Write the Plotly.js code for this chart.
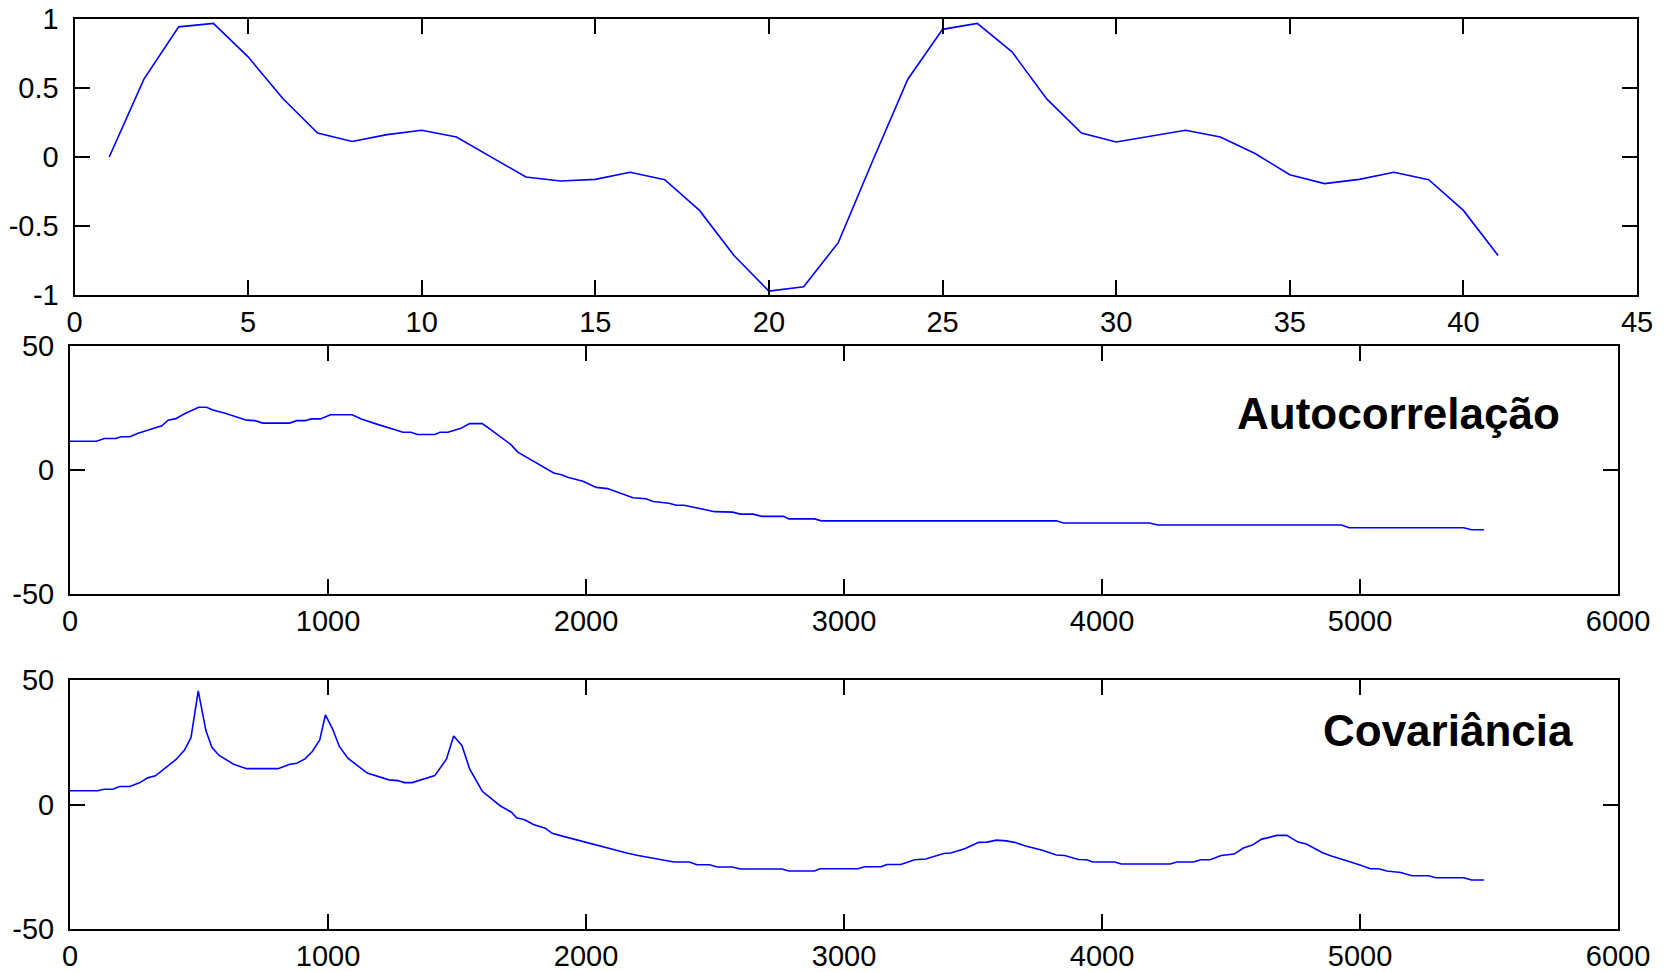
<!DOCTYPE html>
<html>
<head>
<meta charset="utf-8">
<script src="https://cdn.plot.ly/plotly-3.0.1.min.js"></script>
<style>html,body{margin:0;padding:0;background:#fff;}#chart{width:1669px;height:972px;}</style>
</head>
<body>
<div id="chart"></div>
<script>
// ---- Top panel: signal ----
const sigX = [1,2,3,4,5,6,7,8,9,10,11,12,13,14,15,16,17,18,19,20,21,22,23,24,25,26,27,28,29,30,31,32,33,34,35,36,37,38,39,40,41];
const sigY = [0.0,0.564,0.943,0.968,0.726,0.424,0.174,0.112,0.162,0.194,0.145,0.0,-0.145,-0.174,-0.162,-0.111,-0.164,-0.387,-0.716,-0.972,-0.941,-0.619,-0.02,0.564,0.925,0.968,0.762,0.421,0.174,0.109,0.15,0.194,0.145,0.025,-0.128,-0.193,-0.162,-0.111,-0.164,-0.387,-0.713];

// ---- Middle panel: autocorrelation ----
const acX = [0,103,133,178,198,232,261,311,356,380,410,444,469,499,529,554,598,638,685,717,747,851,879,911,935,970,1010,1093,1129,1192,1251,1291,1321,1347,1414,1434,1465,1515,1549,1598,1648,1707,1737,1806,1846,1875,1905,1929,1988,2040,2083,2123,2158,2182,2232,2261,2321,2350,2380,2420,2459,2499,2568,2598,2648,2681,2766,2786,2886,2912,3823,3851,4183,4217,4928,4958,5402,5432,5481];
const acY = [11.6,11.6,12.7,12.7,13.4,13.4,14.7,16.4,17.8,20.1,20.7,22.7,23.8,25.3,25.3,24.2,23.0,21.7,20.1,19.9,18.9,18.9,19.9,19.9,20.6,20.6,22.3,22.3,20.6,18.4,16.4,15.2,15.2,14.3,14.3,15.2,15.2,16.8,18.7,18.7,15.0,10.4,7.1,3.1,0.8,-1.2,-1.9,-2.9,-4.5,-7.0,-7.5,-9.0,-10.0,-11.2,-11.6,-12.7,-13.4,-14.2,-14.2,-15.0,-16.0,-16.8,-17.0,-17.8,-17.8,-18.7,-18.7,-19.7,-19.7,-20.5,-20.5,-21.4,-21.4,-22.2,-22.2,-23.3,-23.3,-24.1,-24.1];

// ---- Bottom panel: covariance ----
const cvX = [0,107,133,166,192,232,271,301,331,360,410,444,469,497,527,550,578,634,685,806,852,879,911,939,968,990,1018,1044,1077,1152,1192,1236,1271,1295,1327,1370,1414,1459,1487,1519,1549,1598,1632,1667,1711,1731,1762,1796,1842,1869,1905,1964,2024,2069,2103,2133,2158,2202,2251,2291,2341,2400,2430,2479,2509,2568,2598,2760,2786,2886,2907,3054,3080,3144,3166,3220,3274,3317,3386,3414,3468,3522,3554,3592,3629,3661,3704,3769,3823,3855,3909,3941,3963,4049,4075,4264,4290,4355,4383,4419,4462,4512,4548,4583,4619,4641,4678,4716,4760,4792,4857,4889,4943,4997,5040,5072,5104,5158,5201,5266,5294,5402,5432,5481];
const cvY = [5.5,5.5,6.1,6.1,7.2,7.2,8.8,10.7,11.5,13.9,18.0,21.9,26.9,45.6,29.6,23.0,19.7,16.2,14.4,14.4,16.2,16.6,18.3,21.3,25.9,36.0,30.3,23.3,18.6,12.6,11.2,9.9,9.6,8.8,8.8,10.3,11.6,18.2,27.5,23.7,14.3,5.3,2.3,-0.5,-3.1,-5.3,-6.1,-8.0,-9.5,-11.6,-12.6,-14.2,-16.0,-17.0,-17.9,-18.7,-19.5,-20.5,-21.4,-22.2,-23.1,-23.1,-24.2,-24.2,-25.1,-25.1,-25.9,-25.9,-26.7,-26.7,-25.8,-25.8,-25.0,-25.0,-24.1,-24.1,-22.2,-21.9,-19.7,-19.5,-17.8,-15.2,-15.1,-14.3,-14.6,-15.2,-16.7,-18.4,-20.3,-20.5,-22.1,-22.2,-23.1,-23.1,-23.9,-23.9,-23.1,-23.1,-22.2,-22.2,-20.5,-19.9,-17.5,-16.3,-13.9,-13.4,-12.4,-12.4,-15.1,-15.9,-19.5,-20.7,-22.3,-24.2,-25.8,-25.8,-26.7,-27.3,-28.6,-28.6,-29.4,-29.4,-30.3,-30.3];

// ---- Tick values / labels ----
const topXTicks = [0,5,10,15,20,25,30,35,40,45];
const topXLabels = ["0","5","10","15","20","25","30","35","40","45"];
const topYTicks = [-1,-0.5,0,0.5,1];
const topYLabels = ["-1","-0.5","0","0.5","1"];
const lagXTicks = [0,1000,2000,3000,4000,5000,6000];
const lagXLabels = ["0","1000","2000","3000","4000","5000","6000"];
const lagYTicks = [-50,0,50];
const lagYLabels = ["-50","0","50"];
const panelTitles = ["Autocorrelação","Covariância"];

const W = 1669, H = 972;
const font = {family: "Arial, 'Liberation Sans', sans-serif", size: 29, color: "#000"};
const lineStyle = {color: "#0000ff", width: 1.6};

function axisBase(extra) {
  return Object.assign({
    showline: true, linecolor: "#000", linewidth: 2, mirror: "ticks",
    ticks: "inside", ticklen: 15, tickwidth: 2, tickcolor: "#000",
    showgrid: false, zeroline: false, tickmode: "array",
    tickfont: font, fixedrange: true
  }, extra);
}
function px(x){return x / W;}
function py(y){return 1 - y / H;}

const traces = [
  {x: sigX, y: sigY, type: "scatter", mode: "lines", line: lineStyle, xaxis: "x", yaxis: "y", hoverinfo: "skip"},
  {x: acX, y: acY, type: "scatter", mode: "lines", line: lineStyle, xaxis: "x2", yaxis: "y2", hoverinfo: "skip"},
  {x: cvX, y: cvY, type: "scatter", mode: "lines", line: lineStyle, xaxis: "x3", yaxis: "y3", hoverinfo: "skip"}
];

const layout = {
  width: W, height: H,
  margin: {l: 0, r: 0, t: 0, b: 0},
  paper_bgcolor: "#fff", plot_bgcolor: "#fff",
  showlegend: false,
  font: font,
  xaxis: axisBase({domain: [px(74.5), px(1637)], range: [0, 45], tickvals: topXTicks, ticktext: topXLabels, anchor: "y", ticklabelstandoff: 0}),
  yaxis: axisBase({domain: [py(295), py(19)], range: [-1, 1], tickvals: topYTicks, ticktext: topYLabels, anchor: "x", ticklabelstandoff: 8}),
  xaxis2: axisBase({domain: [px(70), px(1618)], range: [0, 6000], tickvals: lagXTicks, ticktext: lagXLabels, anchor: "y2", ticklabelstandoff: 0}),
  yaxis2: axisBase({domain: [py(594), py(346)], range: [-50, 50], tickvals: lagYTicks, ticktext: lagYLabels, anchor: "x2", ticklabelstandoff: 8}),
  xaxis3: axisBase({domain: [px(70), px(1618)], range: [0, 6000], tickvals: lagXTicks, ticktext: lagXLabels, anchor: "y3", ticklabelstandoff: 0}),
  yaxis3: axisBase({domain: [py(929), py(680)], range: [-50, 50], tickvals: lagYTicks, ticktext: lagYLabels, anchor: "x3", ticklabelstandoff: 8}),
  annotations: [
    {text: "<b>" + panelTitles[0] + "</b>", xref: "paper", yref: "paper", x: px(1562), y: py(413), xanchor: "right", yanchor: "middle", showarrow: false, font: {family: "Arial, 'Liberation Sans', sans-serif", size: 44, color: "#000"}},
    {text: "<b>" + panelTitles[1] + "</b>", xref: "paper", yref: "paper", x: px(1575), y: py(730), xanchor: "right", yanchor: "middle", showarrow: false, font: {family: "Arial, 'Liberation Sans', sans-serif", size: 44, color: "#000"}}
  ]
};

Plotly.newPlot("chart", traces, layout, {staticPlot: true, displayModeBar: false});
</script>
</body>
</html>
